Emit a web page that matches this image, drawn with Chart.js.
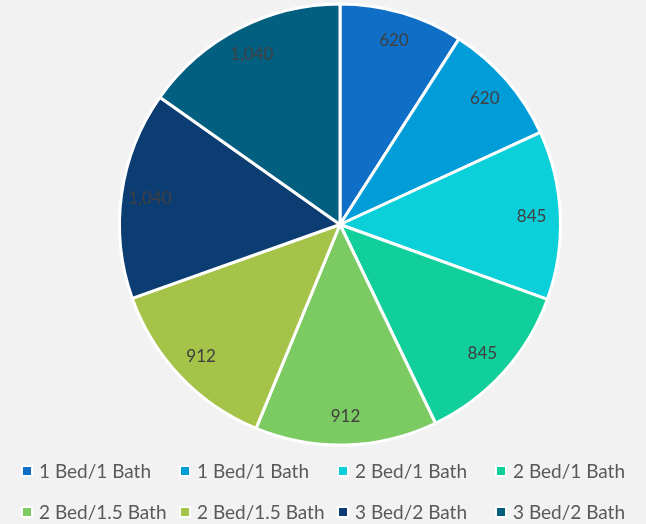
<!DOCTYPE html>
<html>
<head>
<meta charset="utf-8">
<script src="https://cdn.jsdelivr.net/npm/chart.js@4/dist/chart.umd.min.js"></script>
<style>
    html, body { margin: 0; padding: 0; background: #f2f2f2; }
    #wrap { position: relative; width: 646px; height: 524px; }
    #pie-chart { position: absolute; left: 0; top: 0; }
    #legend {
        position: absolute; left: 21px; top: 459px; width: 640px;
        display: grid; grid-template-columns: 158px 158px 158px 158px;
        row-gap: 18px;
        font-family: Lato, "Open Sans", sans-serif; font-size: 19px; color: #595959;
    }
    .item { display: flex; align-items: center; height: 23px; white-space: nowrap; }
    .box { width: 8px; height: 8px; border: 2px solid #fff; margin-right: 6px; }
</style>
</head>
<body>
<div id="wrap">
    <canvas id="pie-chart" width="646" height="524"></canvas>
    <div id="legend"></div>
</div>
<script>
// Unit types and square footage
const categories = ['1 Bed/1 Bath', '1 Bed/1 Bath', '2 Bed/1 Bath', '2 Bed/1 Bath',
    '2 Bed/1.5 Bath', '2 Bed/1.5 Bath', '3 Bed/2 Bath', '3 Bed/2 Bath'];
const values = [620, 620, 845, 845, 912, 912, 1040, 1040];
const colors = ['#0f6fc6', '#009dd9', '#0bd0d9', '#10cf9b', '#7cca62', '#a5c249', '#0b3d72', '#035f80'];

/**
 * Draw the value labels inside each slice, near the outer edge
 */
const sliceLabels = {
    id: 'sliceLabels',
    afterDatasetsDraw(chart) {
        const ctx = chart.ctx;
        const meta = chart.getDatasetMeta(0);
        ctx.save();
        ctx.font = '17px Lato, "Open Sans", sans-serif';
        ctx.fillStyle = '#404040';
        ctx.textAlign = 'center';
        ctx.textBaseline = 'middle';
        meta.data.forEach(function(arc, i) {
            const mid = (arc.startAngle + arc.endAngle) / 2;
            const r = arc.outerRadius * 0.87;
            const x = arc.x + Math.cos(mid) * r;
            const y = arc.y + Math.sin(mid) * r;
            ctx.fillText(values[i].toLocaleString('en-US'), x, y);
        });
        ctx.restore();
    }
};

const ctx = document.getElementById('pie-chart').getContext('2d');

const pieChart = new Chart(ctx, {
    type: 'pie',
    data: {
        labels: categories,
        datasets: [{
            data: values,
            backgroundColor: colors,
            borderColor: '#ffffff',
            borderWidth: 3
        }]
    },
    options: {
        responsive: false,
        animation: false,
        layout: {
            padding: { top: 2, bottom: 77, left: 118, right: 84 }
        },
        plugins: {
            legend: { display: false },
            tooltip: { enabled: false }
        }
    },
    plugins: [sliceLabels]
});

// Build the legend below the pie
const legend = document.getElementById('legend');
categories.forEach(function(name, i) {
    const item = document.createElement('div');
    item.className = 'item';
    const box = document.createElement('span');
    box.className = 'box';
    box.style.background = colors[i];
    const text = document.createElement('span');
    text.textContent = name;
    item.appendChild(box);
    item.appendChild(text);
    legend.appendChild(item);
});
</script>
</body>
</html>
